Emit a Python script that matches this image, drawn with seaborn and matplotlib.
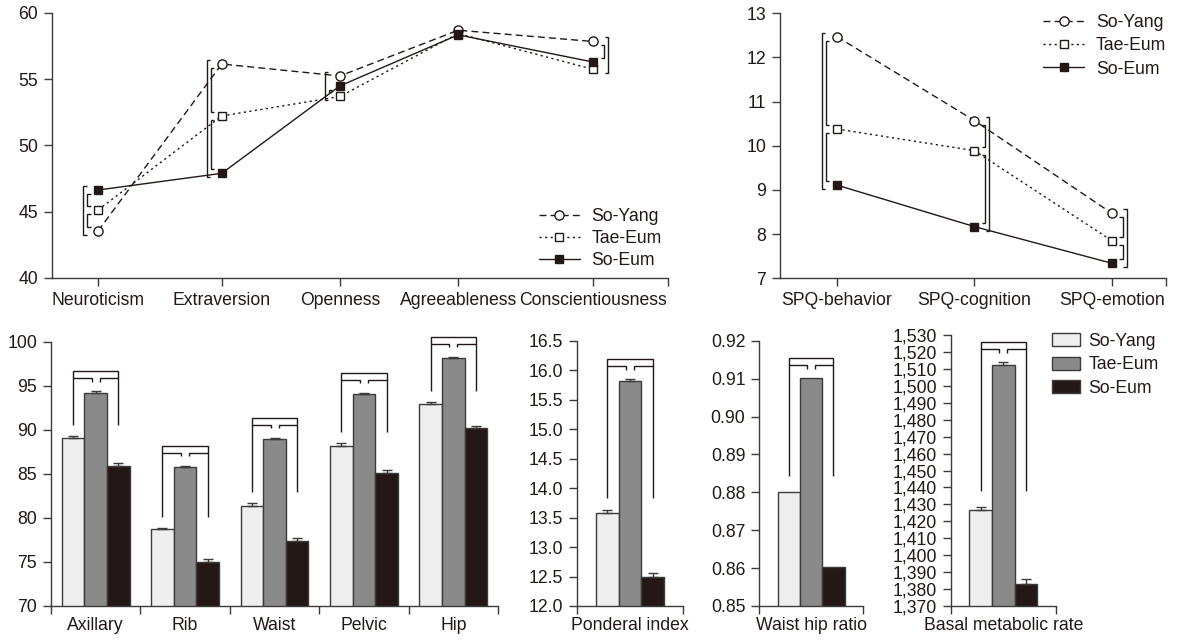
import matplotlib

matplotlib.use('Agg')
import matplotlib.pyplot as plt
import matplotlib.ticker as mticker
from matplotlib.lines import Line2D
from matplotlib.patches import Patch
import numpy as np
import pandas as pd
import seaborn as sns

groups = ['So-Yang', 'Tae-Eum', 'So-Eum']

# personality scores (top left)
traits = ['Neuroticism', 'Extraversion', 'Openness', 'Agreeableness', 'Conscientiousness']
trait_so_yang = [43.55, 56.15, 55.25, 58.7, 57.85]
trait_tae_eum = [45.13, 52.23, 53.7, 58.45, 55.75]
trait_so_eum = [46.64, 47.9, 54.5, 58.35, 56.3]

# SPQ scores (top right)
spq = ['SPQ-behavior', 'SPQ-cognition', 'SPQ-emotion']
spq_so_yang = [12.47, 10.57, 8.47]
spq_tae_eum = [10.38, 9.89, 7.85]
spq_so_eum = [9.11, 8.17, 7.34]

# body circumferences (bottom left)
sites = ['Axillary', 'Rib', 'Waist', 'Pelvic', 'Hip']
site_so_yang = [89.1, 78.74, 81.4, 88.2, 92.93]
site_tae_eum = [94.2, 85.8, 88.9, 94.06, 98.18]
site_so_eum = [85.9, 75.03, 77.38, 85.13, 90.24]
site_se_so_yang = [0.2, 0.15, 0.25, 0.25, 0.2]
site_se_tae_eum = [0.15, 0.1, 0.2, 0.15, 0.1]
site_se_so_eum = [0.3, 0.25, 0.3, 0.3, 0.2]

ponderal = [13.58, 15.82, 12.49]
ponderal_se = [0.05, 0.03, 0.07]
whr = [0.8802, 0.9101, 0.8602]
whr_se = [0, 0, 0]
bmr = [1426.6, 1512.4, 1383.0]
bmr_se = [2.0, 1.5, 3.0]

# which pairs get a bracket, first pair is the outer one
trait_brackets = [
    (0, 'left', [('So-Eum', 'So-Yang'), ('So-Eum', 'Tae-Eum'), ('Tae-Eum', 'So-Yang')]),
    (1, 'left', [('So-Yang', 'So-Eum'), ('So-Yang', 'Tae-Eum'), ('Tae-Eum', 'So-Eum')]),
    (2, 'left', [('So-Yang', 'Tae-Eum'), ('So-Eum', 'Tae-Eum')]),
    (4, 'right', [('So-Yang', 'Tae-Eum'), ('So-Yang', 'So-Eum')]),
]
spq_brackets = [
    (0, 'left', [('So-Yang', 'So-Eum'), ('So-Yang', 'Tae-Eum'), ('Tae-Eum', 'So-Eum')]),
    (1, 'right', [('So-Yang', 'So-Eum'), ('So-Yang', 'Tae-Eum'), ('Tae-Eum', 'So-Eum')]),
    (2, 'right', [('So-Yang', 'So-Eum'), ('So-Yang', 'Tae-Eum'), ('Tae-Eum', 'So-Eum')]),
]

# category spacing along x (the original spaces the long labels unevenly)
trait_slots = [0.0, 1.0, 1.955, 2.91, 4.0]
spq_slots = [0.0, 1.0, 2.0]

INK = '#231815'
EDGE = '#3e3a39'
FS = 12.7
BAR_COLORS = ['#eeeeee', '#8a8a8a', '#231816']
MARKERS = {'So-Yang': 'o', 'Tae-Eum': 's', 'So-Eum': 's'}
DASHES = {'So-Yang': (5, 3), 'Tae-Eum': (1.6, 2.4), 'So-Eum': ''}
FACES = {'So-Yang': 'white', 'Tae-Eum': 'white', 'So-Eum': INK}
MSIZE = {'So-Yang': 6.6, 'Tae-Eum': 6.2, 'So-Eum': 6.4}

sns.set_theme(style='ticks')
plt.rcParams['font.family'] = ['Liberation Sans', 'DejaVu Sans']
plt.rcParams.update({
    'font.size': FS, 'xtick.labelsize': FS, 'ytick.labelsize': FS, 'legend.fontsize': FS,
    'axes.edgecolor': EDGE, 'axes.linewidth': 1.0,
    'xtick.color': EDGE, 'ytick.color': EDGE,
    'xtick.labelcolor': INK, 'ytick.labelcolor': INK, 'text.color': INK,
    'xtick.major.size': 6, 'ytick.major.size': 6, 'xtick.minor.size': 6,
    'xtick.major.width': 1, 'ytick.major.width': 1, 'xtick.minor.width': 1,
    'xtick.major.pad': 4, 'ytick.major.pad': 4,
})

W, H = 1181, 643
fig = plt.figure(figsize=(W / 100, H / 100), dpi=100)


def rect(left, top, right, bottom):
    return [left / W, 1 - bottom / H, (right - left) / W, (bottom - top) / H]


def px_line(ax, pts):
    xy = ax.transData.inverted().transform(np.array(pts))
    ax.plot(xy[:, 0], xy[:, 1], color=INK, lw=1.0, clip_on=False, zorder=5,
            solid_capstyle='butt', solid_joinstyle='miter')


def style_axes(ax):
    sns.despine(ax=ax)
    ax.set_xlabel('')
    ax.set_ylabel('')


def draw_profile(ax, cats, slots, series, brackets, xlim, ylim, yticks):
    n = len(cats)
    df = pd.DataFrame({
        'pos': np.tile(slots, len(groups)),
        'score': np.concatenate(series),
        'type': np.repeat(groups, n),
    })
    sns.lineplot(data=df, x='pos', y='score', hue='type', style='type',
                 hue_order=groups, style_order=groups, palette=[INK] * 3,
                 markers=MARKERS, dashes=DASHES, linewidth=1.0,
                 errorbar=None, legend=False, ax=ax)
    for line, g in zip(ax.lines, groups):
        line.set_markerfacecolor(FACES[g])
        line.set_markeredgecolor(INK)
        line.set_markeredgewidth(1.0)
        line.set_markersize(MSIZE[g])
    ax.set_xlim(*xlim)
    ax.set_ylim(*ylim)
    ax.set_yticks(yticks)
    ax.set_xticks(slots)
    ax.set_xticklabels(cats)
    ax.set_xticks([xlim[1]], minor=True)
    style_axes(ax)

    vals = dict(zip(groups, series))
    for idx, side, pairs in brackets:
        sign = -1 if side == 'left' else 1
        for k, (g0, g1) in enumerate(pairs):
            p0 = ax.transData.transform((slots[idx], vals[g0][idx]))
            p1 = ax.transData.transform((slots[idx], vals[g1][idx]))
            outer = k == 0
            xv = p0[0] + sign * (15 if outer else 11)
            ext = 4 if outer else -4
            top = max(p0[1], p1[1]) + ext
            bot = min(p0[1], p1[1]) - ext
            foot = xv - sign * 3.5
            px_line(ax, [(foot, top), (xv, top), (xv, bot), (foot, bot)])


def line_handles():
    return [Line2D([], [], color=INK, lw=1.0, linestyle=(0, DASHES[g]) if DASHES[g] else '-',
                   marker=MARKERS[g], markersize=MSIZE[g], markerfacecolor=FACES[g],
                   markeredgecolor=INK, markeredgewidth=1.0, label=g) for g in groups]


def draw_bars(ax, cats, series, errors, leg_px, ylim, yticks, fmt):
    n = len(cats)
    df = pd.DataFrame({
        'cat': np.tile(cats, len(groups)),
        'value': np.concatenate(series),
        'type': np.repeat(groups, n),
    })
    sns.barplot(data=df, x='cat', y='value', hue='type', hue_order=groups,
                palette=BAR_COLORS, saturation=1, width=0.76, edgecolor=EDGE,
                linewidth=1.0, errorbar=None, legend=False, ax=ax)
    xlim = (-0.5, n - 0.5) if n > 1 else (-0.59, 0.59)
    ax.set_xlim(*xlim)
    ax.set_ylim(*ylim)
    ax.set_yticks(yticks)
    ax.yaxis.set_major_formatter(fmt)
    ax.tick_params(axis='x', which='major', length=0, pad=8)
    ax.set_xticks(np.arange(-0.5, n, 1.0) if n > 1 else list(xlim), minor=True)
    style_axes(ax)

    centers = [[b.get_x() + b.get_width() / 2 for b in c] for c in ax.containers]
    tops = [[b.get_height() for b in c] for c in ax.containers]
    for gi in range(len(groups)):
        for j in range(n):
            if errors[gi][j] > 0:
                ax.errorbar(centers[gi][j], tops[gi][j], yerr=[[0], [errors[gi][j]]],
                            fmt='none', ecolor=EDGE, elinewidth=1.0, capsize=3.5,
                            capthick=1.0, zorder=4)
    for j in range(n):
        d = [ax.transData.transform((centers[gi][j], tops[gi][j] + errors[gi][j]))
             for gi in range(len(groups))]
        hmax = max(p[1] for p in d)
        y_top = hmax + 20
        y_mid = hmax + 13
        y_leg = d[0][1] + leg_px
        x0, x1, x2 = d[0][0], d[1][0], d[2][0]
        px_line(ax, [(x0, y_leg), (x0, y_top), (x2, y_top), (x2, y_leg)])
        px_line(ax, [(x0, y_mid), (x1 - 4, y_mid), (x1 - 4, y_mid - 3.5)])
        px_line(ax, [(x1 + 4, y_mid - 3.5), (x1 + 4, y_mid), (x2, y_mid)])


# top left: personality
ax1 = fig.add_axes(rect(52, 13, 668, 278))
draw_profile(ax1, traits, trait_slots, [trait_so_yang, trait_tae_eum, trait_so_eum],
             trait_brackets, (-0.372, 4.606), (40, 60), [40, 45, 50, 55, 60])
ax1.legend(handles=line_handles(), loc='lower right', bbox_to_anchor=(0.99, 0.035),
           frameon=False, handlelength=2.35, handletextpad=0.65, labelspacing=0.28,
           borderpad=0, borderaxespad=0, numpoints=1, fontsize=FS)

# top right: SPQ
ax2 = fig.add_axes(rect(780, 13.3, 1166, 278.3))
draw_profile(ax2, spq, spq_slots, [spq_so_yang, spq_tae_eum, spq_so_eum], spq_brackets,
             (-0.4145, 2.393), (7, 13), list(range(7, 14)))
ax2.legend(handles=line_handles(), loc='upper right', bbox_to_anchor=(1.0, 0.998),
           frameon=False, handlelength=2.35, handletextpad=0.65, labelspacing=0.36,
           borderpad=0, borderaxespad=0, numpoints=1, fontsize=FS)

# bottom: anthropometrics
ax3 = fig.add_axes(rect(51, 341.7, 498, 606))
draw_bars(ax3, sites, [site_so_yang, site_tae_eum, site_so_eum],
          [site_se_so_yang, site_se_tae_eum, site_se_so_eum], 11,
          (70, 100), list(range(70, 101, 5)), mticker.StrMethodFormatter('{x:.0f}'))

ax4 = fig.add_axes(rect(577, 340.7, 683, 606))
draw_bars(ax4, ['Ponderal index'], [[v] for v in ponderal], [[e] for e in ponderal_se], 11.5,
          (12.0, 16.5), np.arange(12.0, 16.51, 0.5), mticker.StrMethodFormatter('{x:.1f}'))

ax5 = fig.add_axes(rect(759.3, 340.7, 863, 606))
draw_bars(ax5, ['Waist hip ratio'], [[v] for v in whr], [[e] for e in whr_se], 15.5,
          (0.85, 0.92), np.arange(0.85, 0.9201, 0.01), mticker.StrMethodFormatter('{x:.2f}'))

ax6 = fig.add_axes(rect(950.7, 335, 1056, 606))
draw_bars(ax6, ['Basal metabolic rate'], [[v] for v in bmr], [[e] for e in bmr_se], 15.5,
          (1370, 1530), np.arange(1370, 1531, 10), mticker.StrMethodFormatter('{x:,.0f}'))

fig.legend(handles=[Patch(facecolor=c, edgecolor=EDGE, linewidth=1.0, label=g)
                    for c, g in zip(BAR_COLORS, groups)],
           loc='upper left', bbox_to_anchor=(1052 / W, 1 - 333 / H), frameon=False,
           handlelength=1.6, handleheight=0.78, handletextpad=0.45, labelspacing=0.36,
           borderpad=0, borderaxespad=0, fontsize=FS)

fig.savefig('out.png', dpi=100)
plt.close(fig)
